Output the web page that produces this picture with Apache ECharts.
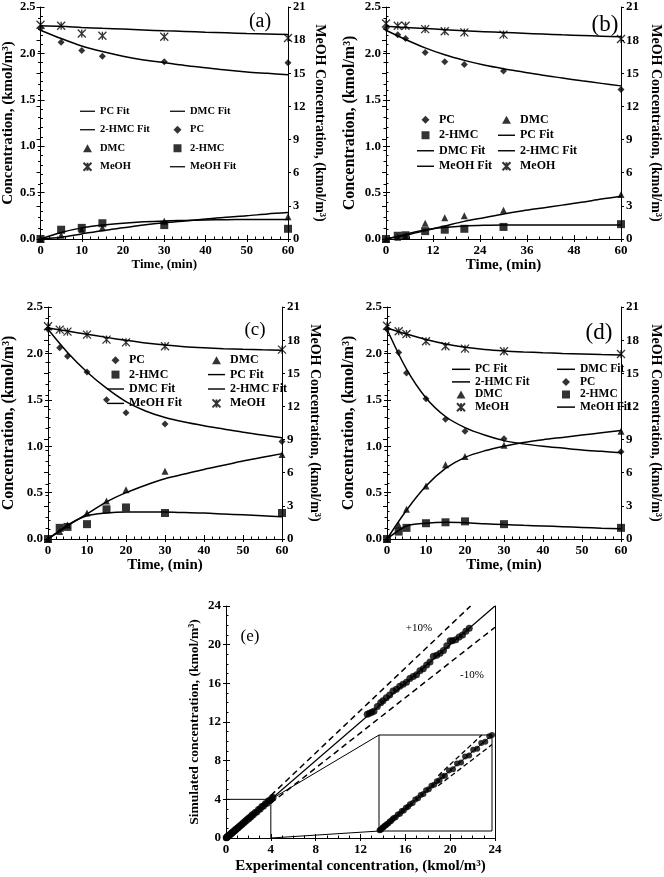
<!DOCTYPE html>
<html><head><meta charset="utf-8">
<script src="https://cdn.jsdelivr.net/npm/echarts@6/dist/echarts.min.js"></script>
<style>html,body{margin:0;padding:0;background:#fff}#c{width:664px;height:877px}</style>
</head><body><div id="c"></div>
<script>
// ---------- data ----------
const timeA = [0, 5, 10, 15, 30, 60];
const timeBCD = [0, 3, 5, 10, 15, 20, 30, 60];
const fitTime = [0, 5, 10, 15, 20, 25, 30, 35, 40, 45, 50, 55, 60];

// panel (a)
const pcA   = [2.27, 2.12, 2.03, 1.97, 1.91, 1.90];
const dmcA  = [0, 0.04, 0.10, 0.12, 0.19, 0.24];
const hmcA  = [0, 0.10, 0.12, 0.17, 0.15, 0.11];
const meohA = [19.4, 19.3, 18.6, 18.4, 18.3, 18.2];
const pcFitA   = [2.25, 2.16, 2.08, 2.02, 1.97, 1.93, 1.90, 1.87, 1.845, 1.82, 1.80, 1.785, 1.77];
const dmcFitA  = [0, 0.02, 0.055, 0.09, 0.12, 0.15, 0.175, 0.195, 0.215, 0.235, 0.25, 0.27, 0.285];
const hmcFitA  = [0, 0.07, 0.12, 0.15, 0.17, 0.185, 0.195, 0.20, 0.205, 0.208, 0.21, 0.21, 0.21];
const meohFitA = [19.3, 19.25, 19.15, 19.07, 19.0, 18.92, 18.85, 18.79, 18.72, 18.66, 18.6, 18.55, 18.5];

// panel (b)
const pcB   = [2.27, 2.20, 2.16, 2.01, 1.91, 1.88, 1.81, 1.61];
const dmcB  = [0, 0.02, 0.03, 0.17, 0.23, 0.25, 0.31, 0.48];
const hmcB  = [0, 0.035, 0.04, 0.085, 0.10, 0.11, 0.13, 0.16];
const meohB = [19.5, 19.3, 19.3, 19.0, 18.8, 18.7, 18.5, 18.1];
const pcFitB   = [2.25, 2.15, 2.06, 1.985, 1.925, 1.875, 1.835, 1.80, 1.765, 1.735, 1.705, 1.677, 1.65];
const dmcFitB  = [0, 0.04, 0.09, 0.14, 0.19, 0.23, 0.27, 0.305, 0.335, 0.365, 0.395, 0.43, 0.46];
const hmcFitB  = [0, 0.05, 0.10, 0.125, 0.14, 0.147, 0.15, 0.15, 0.15, 0.15, 0.15, 0.15, 0.15];
const meohFitB = [19.25, 19.15, 19.05, 18.95, 18.85, 18.77, 18.7, 18.62, 18.55, 18.48, 18.42, 18.36, 18.3];

// panel (c)
const pcC   = [2.26, 2.06, 1.97, 1.80, 1.50, 1.36, 1.24, 1.05];
const dmcC  = [0, 0.08, 0.15, 0.28, 0.41, 0.53, 0.73, 0.91];
const hmcC  = [0, 0.12, 0.13, 0.16, 0.32, 0.34, 0.28, 0.28];
const meohC = [19.25, 18.95, 18.77, 18.5, 18.05, 17.8, 17.44, 17.14];
const pcFitC   = [2.26, 2.01, 1.80, 1.625, 1.48, 1.38, 1.31, 1.26, 1.22, 1.185, 1.15, 1.12, 1.09];
const dmcFitC  = [0, 0.14, 0.27, 0.40, 0.50, 0.58, 0.65, 0.70, 0.75, 0.795, 0.84, 0.88, 0.92];
const hmcFitC  = [0, 0.15, 0.25, 0.28, 0.29, 0.29, 0.29, 0.285, 0.28, 0.27, 0.26, 0.25, 0.24];
const meohFitC = [19.1, 18.82, 18.53, 18.25, 17.98, 17.74, 17.55, 17.41, 17.31, 17.23, 17.17, 17.12, 17.08];

// panel (d)
const pcD   = [2.26, 2.01, 1.79, 1.51, 1.29, 1.16, 1.08, 0.94];
const dmcD  = [0, 0.15, 0.32, 0.57, 0.80, 0.89, 1.01, 1.16];
const hmcD  = [0, 0.08, 0.12, 0.17, 0.18, 0.19, 0.16, 0.12];
const meohD = [19.3, 18.8, 18.55, 17.9, 17.44, 17.23, 17.0, 16.75];
const pcFitD   = [2.26, 1.83, 1.52, 1.32, 1.20, 1.12, 1.06, 1.025, 1.00, 0.98, 0.96, 0.945, 0.93];
const dmcFitD  = [0, 0.31, 0.57, 0.76, 0.88, 0.95, 1.00, 1.04, 1.07, 1.095, 1.12, 1.145, 1.17];
const hmcFitD  = [0, 0.14, 0.17, 0.18, 0.175, 0.165, 0.155, 0.147, 0.14, 0.133, 0.125, 0.117, 0.11];
const meohFitD = [19.1, 18.55, 18.05, 17.65, 17.35, 17.15, 17.02, 16.93, 16.86, 16.8, 16.75, 16.7, 16.66];

// panel (e) parity data
const expLow = [0.02,0.05,0.08,0.12,0.15,0.18,0.22,0.26,0.3,0.35,0.4,0.45,0.5,0.55,0.62,0.7,0.78,0.85,0.92,1.0,1.08,1.15,1.25,1.35,1.45,1.55,1.65,1.75,1.85,1.95,2.05,2.15,2.25,2.35,2.45,2.6,2.75,2.9,3.05,3.2,3.35,3.5,3.65,3.8,3.95,4.1,4.2];
const simLow = [0.03,0.06,0.07,0.13,0.16,0.17,0.24,0.25,0.31,0.34,0.42,0.44,0.51,0.57,0.6,0.72,0.76,0.87,0.9,1.02,1.06,1.17,1.23,1.38,1.43,1.57,1.62,1.78,1.83,1.98,2.02,2.18,2.22,2.4,2.42,2.65,2.7,2.95,3.0,3.26,3.3,3.55,3.6,3.85,3.9,4.15,4.2];
const expHigh = [12.6,12.8,13.0,13.2,13.5,13.8,14.0,14.3,14.6,14.9,15.2,15.5,15.8,16.1,16.4,16.7,17.0,17.3,17.6,17.9,18.2,18.5,18.8,19.1,19.4,19.7,20.0,20.2,20.5,20.8,21.1,21.4,21.7];
const simHigh = [12.8,12.9,13.0,13.1,13.6,14.0,14.2,14.5,14.8,15.2,15.4,15.7,15.9,16.1,16.5,16.7,16.9,17.3,17.5,17.9,18.2,18.8,18.9,19.1,19.4,19.9,20.4,20.4,20.5,20.8,21.0,21.4,21.7];
const parityLine = [[0, 0], [24, 24]];
const plusLine = [[4, 4.4], [21.82, 24]];
const minusLine = [[4, 3.6], [24, 21.8]];
const zoomBox = [[0, 4], [4, 4], [4, 0]];
const zoomLinkTop = [[4, 4], [13.66, 10.66]];
const zoomLinkBottom = [[4, 0], [13.66, 0.72]];
const insetParity = [[0, 0], [4.2, 4.2]];
const insetPlus = [[2.2, 2.42], [3.82, 4.2]];
const insetMinus = [[2.2, 1.98], [4.2, 3.78]];

// ---------- helpers ----------
const F = '"Liberation Serif","Times New Roman",serif';
const zip = (a, b) => a.map((x, i) => [x, b[i]]);
const DIAMOND = 'path://M5,0L10,5L5,10L0,5Z';
const TRI = 'path://M5,0L10,9L0,9Z';
const SQUARE = 'path://M0,0L10,0L10,10L0,10Z';
const STAR = 'path://M0,0L10,10M10,0L0,10M5,0L5,10';
const LINE_ICON = 'path://M0,0L24,0L24,2L0,2Z';

const grids = [], xAxes = [], yAxes = [], series = [], legends = [], graphics = [];

function addAxis(list, o) {
  list.push({
    type: 'value', gridIndex: o.grid, position: o.position, min: o.min, max: o.max, interval: o.interval,
    splitLine: { show: false },
    axisLine: { show: true, onZero: false, lineStyle: { color: '#000', width: 1 } },
    axisTick: { show: o.ticks !== false, inside: false, length: 3, lineStyle: { color: '#000' } },
    minorTick: { show: false },
    axisLabel: { show: o.labels !== false, color: '#000', fontFamily: F, fontWeight: 'bold', fontSize: o.tickFont || 13, margin: 5,
      formatter: o.fmt || undefined },
    name: o.name || '', nameLocation: 'middle', nameGap: o.nameGap || 20, nameRotate: o.nameRotate,
    nameTextStyle: { color: '#000', fontFamily: F, fontWeight: 'bold', fontSize: o.nameFont || 14 }
  });
  const idx = list.length - 1;
  if (o.minor) {
    list.push({
      type: 'value', gridIndex: o.grid, position: o.position, min: o.min, max: o.max, interval: o.interval,
      splitLine: { show: false }, axisLine: { show: false }, axisLabel: { show: false },
      axisTick: { show: true, inside: true, length: 4, lineStyle: { color: '#000' } },
      minorTick: { show: true, splitNumber: o.minor, length: 2.5, lineStyle: { color: '#000' } }
    });
  }
  return idx;
}
function scat(name, sym, size, xi, yi, data, star) {
  series.push({
    type: 'scatter', name, symbol: sym, symbolSize: size, xAxisIndex: xi, yAxisIndex: yi, data,
    itemStyle: star ? { color: 'none', borderColor: '#000', borderWidth: 1.3 } : { color: '#000' },
    z: 4, silent: true
  });
}
function fitLine(name, xi, yi, data, dash, width) {
  series.push({
    type: 'line', name, xAxisIndex: xi, yAxisIndex: yi, data, symbol: 'none',
    smooth: dash === undefined ? 0.3 : false,
    lineStyle: { color: '#000', width: width || 1.5, type: dash || 'solid' }, itemStyle: { color: '#000' },
    z: 3, silent: true
  });
}
const isFit = n => / Fit$/.test(n);

function panel(p) {
  const g = grids.length;
  grids.push(Object.assign({ containLabel: false }, p.grid));
  const xi = addAxis(xAxes, { grid: g, position: 'bottom', min: 0, max: 60, interval: p.xInt, minor: p.xMinor,
    tickFont: p.tickFont, name: 'Time, (min)', nameGap: p.xGap, nameFont: p.xNameFont });
  const yl = addAxis(yAxes, { grid: g, position: 'left', min: 0, max: 2.5, interval: 0.5, minor: 5,
    tickFont: p.tickFont, name: 'Concentration, (kmol/m³)', nameGap: p.lGap, nameFont: p.lNameFont, nameRotate: 90,
    fmt: v => v.toFixed(1) });
  const yr = addAxis(yAxes, { grid: g, position: 'right', min: 0, max: 21, interval: 3, minor: 3,
    tickFont: p.tickFont, name: 'MeOH Concentration, (kmol/m³)', nameGap: p.rGap, nameFont: p.rNameFont, nameRotate: -90 });
  const d = p.data;
  fitLine('PC Fit', xi, yl, zip(fitTime, d.pcFit));
  fitLine('DMC Fit', xi, yl, zip(fitTime, d.dmcFit));
  fitLine('2-HMC Fit', xi, yl, zip(fitTime, d.hmcFit));
  fitLine('MeOH Fit', xi, yr, zip(fitTime, d.meohFit));
  scat('PC', DIAMOND, 7, xi, yl, zip(d.t, d.pc));
  scat('DMC', TRI, 7, xi, yl, zip(d.t, d.dmc));
  scat('2-HMC', SQUARE, 8, xi, yl, zip(d.t, d.hmc));
  scat('MeOH', STAR, 8, xi, yr, zip(d.t, d.meoh), true);
  p.legendCols.forEach((col, i) => {
    legends.push({
      orient: 'vertical', left: p.legendX[i], top: p.legendY, padding: 0, itemGap: 0,
      itemWidth: p.legendIconW, itemHeight: 8, selectedMode: false,
      data: col.map(n => isFit(n) ? { name: n, icon: LINE_ICON, itemStyle: { color: '#000' } } : { name: n }),
      textStyle: { color: '#000', fontFamily: F, fontWeight: 'bold', fontSize: p.legendFont, lineHeight: p.legendRow }
    });
  });
  graphics.push({ type: 'text', x: p.tag[0], y: p.tag[1], silent: true,
    style: { text: p.tag[2], font: p.tag[3] + 'px ' + F, fill: '#000', align: 'center', verticalAlign: 'middle', textAlign: 'center', textVerticalAlign: 'middle' } });
}

const colsAD = [['PC Fit', '2-HMC Fit', 'DMC', 'MeOH'], ['DMC Fit', 'PC', '2-HMC', 'MeOH Fit']];
const colsBC = [['PC', '2-HMC', 'DMC Fit', 'MeOH Fit'], ['DMC', 'PC Fit', '2-HMC Fit', 'MeOH']];

panel({ grid: { left: 38, top: 7, width: 250, height: 232 }, xInt: 10, xMinor: 5, tickFont: 12.5,
  xGap: 19, xNameFont: 13, lGap: 22, lNameFont: 15, rGap: 25, rNameFont: 14,
  data: { t: timeA, pc: pcA, dmc: dmcA, hmc: hmcA, meoh: meohA, pcFit: pcFitA, dmcFit: dmcFitA, hmcFit: hmcFitA, meohFit: meohFitA },
  legendCols: colsAD, legendX: [80, 170], legendY: 102, legendRow: 18.5, legendFont: 10.5, legendIconW: 15,
  tag: [260, 22, '(a)', 20] });
panel({ grid: { left: 386, top: 7, width: 235, height: 232 }, xInt: 12, xMinor: 4, tickFont: 13,
  xGap: 19, xNameFont: 15, lGap: 28, lNameFont: 16, rGap: 28, rNameFont: 14,
  data: { t: timeBCD, pc: pcB, dmc: dmcB, hmc: hmcB, meoh: meohB, pcFit: pcFitB, dmcFit: dmcFitB, hmcFit: hmcFitB, meohFit: meohFitB },
  legendCols: colsBC, legendX: [417, 498], legendY: 112, legendRow: 15.5, legendFont: 12, legendIconW: 17,
  tag: [605, 25, '(b)', 23] });
panel({ grid: { left: 47, top: 307, width: 235, height: 232 }, xInt: 10, xMinor: 5, tickFont: 13,
  xGap: 17, xNameFont: 15, lGap: 31, lNameFont: 16, rGap: 26, rNameFont: 14,
  data: { t: timeBCD, pc: pcC, dmc: dmcC, hmc: hmcC, meoh: meohC, pcFit: pcFitC, dmcFit: dmcFitC, hmcFit: hmcFitC, meohFit: meohFitC },
  legendCols: colsBC, legendX: [107, 208], legendY: 353, legendRow: 14.4, legendFont: 12, legendIconW: 17,
  tag: [255, 330, '(c)', 19] });
panel({ grid: { left: 387, top: 307, width: 235, height: 232 }, xInt: 10, xMinor: 5, tickFont: 13,
  xGap: 17, xNameFont: 15, lGap: 30, lNameFont: 16, rGap: 28, rNameFont: 14,
  data: { t: timeBCD, pc: pcD, dmc: dmcD, hmc: hmcD, meoh: meohD, pcFit: pcFitD, dmcFit: dmcFitD, hmcFit: hmcFitD, meohFit: meohFitD },
  legendCols: colsAD, legendX: [452, 557], legendY: 363, legendRow: 12.6, legendFont: 11.5, legendIconW: 18,
  tag: [599, 333, '(d)', 23] });

// panel (e)
const gE = grids.length;
grids.push({ left: 226, top: 606, width: 269, height: 232 });
const xE = addAxis(xAxes, { grid: gE, position: 'bottom', min: 0, max: 24, interval: 4, minor: 4, tickFont: 13,
  name: 'Experimental concentration, (kmol/m³)', nameGap: 21, nameFont: 15 });
const yE = addAxis(yAxes, { grid: gE, position: 'left', min: 0, max: 24, interval: 4, minor: 4, tickFont: 13,
  name: 'Simulated concentration, (kmol/m³)', nameGap: 24, nameFont: 13.5, nameRotate: 90 });
addAxis(yAxes, { grid: gE, position: 'right', min: 0, max: 24, interval: 4, ticks: false, labels: false });
fitLine('parity', xE, yE, parityLine, 'solid', 1.2);
fitLine('plus10', xE, yE, plusLine, [6, 4], 1.5);
fitLine('minus10', xE, yE, minusLine, [6, 4], 1.5);
fitLine('zoombox', xE, yE, zoomBox, 'solid', 1);
fitLine('zoomTop', xE, yE, zoomLinkTop, 'solid', 1);
fitLine('zoomBottom', xE, yE, zoomLinkBottom, 'solid', 1);
scat('expLow', 'circle', 7, xE, yE, zip(expLow, simLow));
scat('expHigh', 'circle', 7, xE, yE, zip(expHigh, simHigh));

// inset
const gI = grids.length;
grids.push({ left: 379, top: 735, width: 113, height: 96, show: true, borderColor: '#000', borderWidth: 1, backgroundColor: 'rgba(0,0,0,0)' });
xAxes.push({ type: 'value', gridIndex: gI, min: 0, max: 4.2, show: false });
const xI = xAxes.length - 1;
yAxes.push({ type: 'value', gridIndex: gI, min: 0, max: 4.2, show: false });
const yI = yAxes.length - 1;
fitLine('insetParity', xI, yI, insetParity, 'solid', 1);
fitLine('insetPlus', xI, yI, insetPlus, [5, 3], 1.3);
fitLine('insetMinus', xI, yI, insetMinus, [5, 3], 1.3);
scat('insetPts', 'circle', 6, xI, yI, zip(expLow, simLow));

graphics.push({ type: 'text', x: 250, y: 637, silent: true,
  style: { text: '(e)', font: '17px ' + F, fill: '#000', align: 'center', verticalAlign: 'middle', textAlign: 'center', textVerticalAlign: 'middle' } });
graphics.push({ type: 'text', x: 419, y: 628, silent: true,
  style: { text: '+10%', font: '11px ' + F, fill: '#000', align: 'center', verticalAlign: 'middle', textAlign: 'center', textVerticalAlign: 'middle' } });
graphics.push({ type: 'text', x: 472, y: 675, silent: true,
  style: { text: '-10%', font: '11px ' + F, fill: '#000', align: 'center', verticalAlign: 'middle', textAlign: 'center', textVerticalAlign: 'middle' } });

const chart = echarts.init(document.getElementById('c'), null, { renderer: 'canvas' });
chart.setOption({
  animation: false,
  backgroundColor: '#fff',
  grid: grids, xAxis: xAxes, yAxis: yAxes, series, legend: legends,
  graphic: { elements: graphics }
});
</script>
</body></html>
